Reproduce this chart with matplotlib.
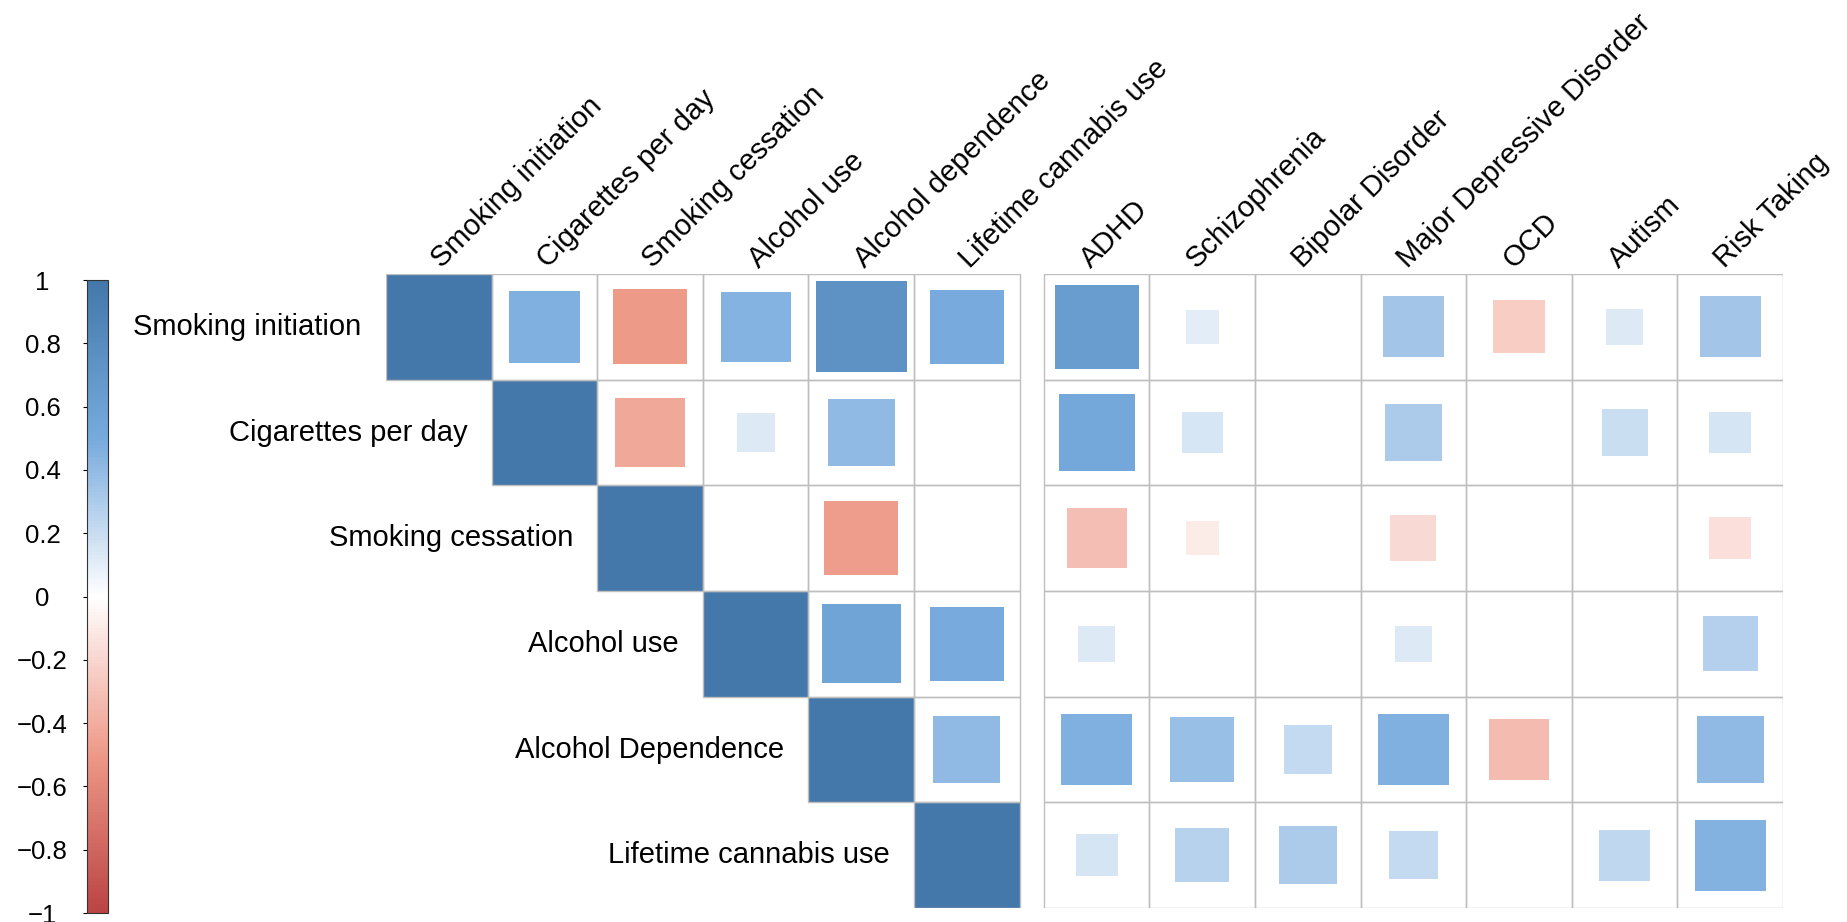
import numpy as np
import matplotlib as mpl
import matplotlib.pyplot as plt
from matplotlib.colors import LinearSegmentedColormap, Normalize
from matplotlib.patches import Rectangle

plt.rcParams['font.family'] = ['Liberation Sans', 'DejaVu Sans']

# column labels (top) and row labels (left)
col_left = ["Smoking initiation", "Cigarettes per day", "Smoking cessation",
            "Alcohol use", "Alcohol dependence", "Lifetime cannabis use"]
col_right = ["ADHD", "Schizophrenia", "Bipolar Disorder",
             "Major Depressive Disorder", "OCD", "Autism", "Risk Taking"]
row_labels = ["Smoking initiation", "Cigarettes per day", "Smoking cessation",
              "Alcohol use", "Alcohol Dependence", "Lifetime cannabis use"]

nan = np.nan
# genetic correlations among substance use traits (upper triangle, blank = nan)
rg_substance = np.array([
    [1.00, 0.46, -0.50, 0.44, 0.74, 0.49],
    [nan, 1.00, -0.43, 0.13, 0.40, nan],
    [nan, nan, 1.00, nan, -0.49, nan],
    [nan, nan, nan, 1.00, 0.56, 0.49],
    [nan, nan, nan, nan, 1.00, 0.40],
    [nan, nan, nan, nan, nan, 1.00],
])
# genetic correlations with psychiatric traits
rg_psych = np.array([
    [0.63, 0.10, nan, 0.33, -0.25, 0.12, 0.33],
    [0.52, 0.15, nan, 0.30, nan, 0.19, 0.155],
    [-0.32, -0.10, nan, -0.19, nan, nan, -0.16],
    [0.12, nan, nan, 0.12, nan, nan, 0.27],
    [0.46, 0.37, 0.21, 0.46, -0.33, nan, 0.40],
    [0.16, 0.26, 0.30, 0.21, nan, 0.23, 0.45],
])

cbar_ticks = [-1, -0.8, -0.6, -0.4, -0.2, 0, 0.2, 0.4, 0.6, 0.8, 1]
cbar_labels = ["\u22121", "\u22120.8", "\u22120.6", "\u22120.4", "\u22120.2", "0",
               "0.2", "0.4", "0.6", "0.8", "1"]

cmap = LinearSegmentedColormap.from_list(
    "corr", ["#BB4444", "#EE9988", "#FFFFFF", "#77AADD", "#4477AA"], N=200)
norm = Normalize(-1, 1)

W, H = 1847, 922
fig = plt.figure(figsize=(W / 100, H / 100), dpi=100)
ax = fig.add_axes([386 / W, (H - 908) / H, (1783 - 386) / W, (908 - 274) / H])
gap = 0.23
ax.set_xlim(0, 13 + gap)
ax.set_ylim(6, 0)
ax.axis('off')


def draw_cell(x0, i, r):
    ax.add_patch(Rectangle((x0, i), 1, 1, fill=False, ec='#BEBEBE', lw=1.0, zorder=3))
    if np.isnan(r):
        return
    s = np.sqrt(abs(r))
    ax.add_patch(Rectangle((x0 + 0.5 - s / 2, i + 0.5 - s / 2), s, s,
                           fc=cmap(norm(r)), ec='none', zorder=2))


for i in range(len(row_labels)):
    for j in range(i, len(col_left)):
        draw_cell(j, i, rg_substance[i, j])
    for j in range(len(col_right)):
        draw_cell(6 + gap + j, i, rg_psych[i, j])
    ax.text(i - 0.23, i + 0.5, row_labels[i], ha='right', va='center', fontsize=21)

for j, lab in enumerate(col_left):
    ax.text(j + 0.57, -0.01, lab, rotation=45, rotation_mode='anchor',
            ha='left', va='bottom', fontsize=21)
for j, lab in enumerate(col_right):
    ax.text(6 + gap + j + 0.49, -0.01, lab, rotation=45, rotation_mode='anchor',
            ha='left', va='bottom', fontsize=21)

# colour legend
cax = fig.add_axes([87 / W, (H - 913) / H, 21 / W, (913 - 280) / H])
cb = mpl.colorbar.ColorbarBase(cax, cmap=cmap, norm=norm, orientation='vertical')
cb.outline.set_edgecolor('#333333')
cb.outline.set_linewidth(0.8)
cax.yaxis.set_ticks_position('left')
cax.set_yticks(cbar_ticks)
cax.set_yticklabels(cbar_labels, ha='center', fontsize=18.5)
cax.tick_params(axis='y', length=3, width=0.8, pad=29)

fig.savefig("out.png", dpi=100)
